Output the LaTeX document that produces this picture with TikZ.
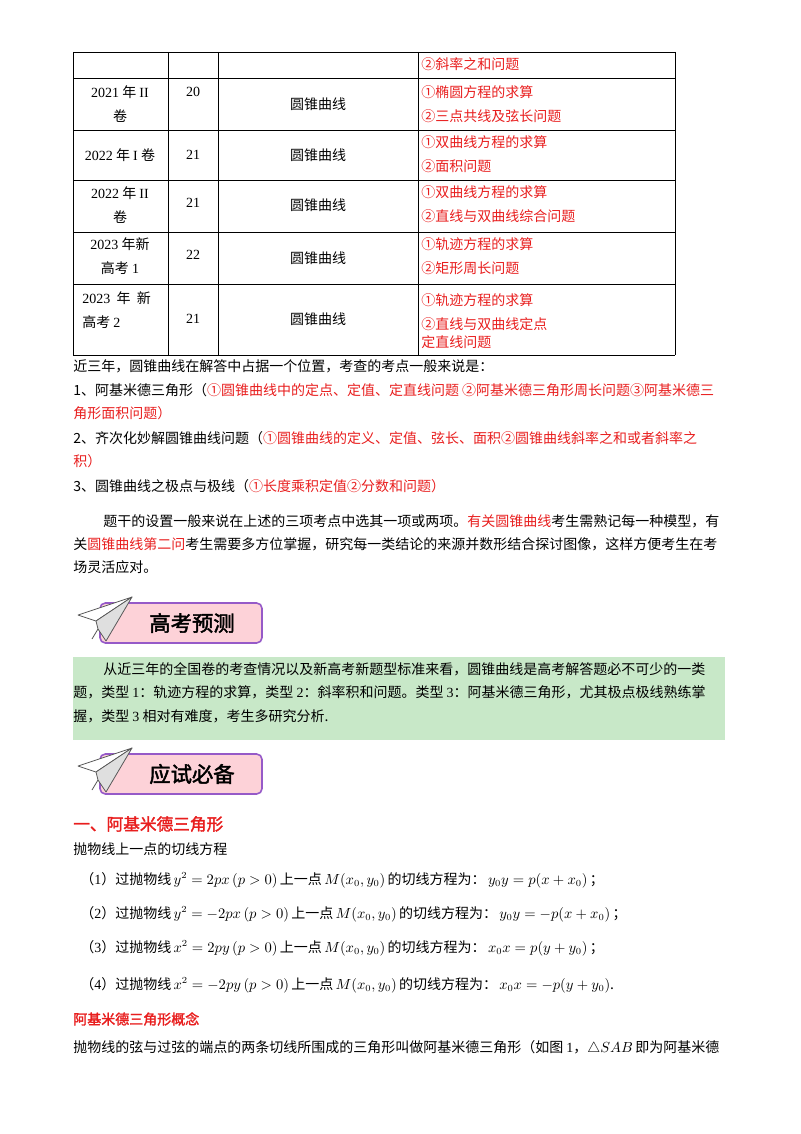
\documentclass[tikz,border=0pt]{standalone}
\usepackage{fontspec}
\setmainfont{Liberation Serif}
\newfontfamily\cjk{Noto Sans CJK SC}
\newfontfamily\cjkb{Noto Sans CJK SC}[FakeBold=2]
\newcommand{\rl}[1]{{\rmfamily #1}}
\definecolor{myred}{RGB}{232,30,30}
\definecolor{mygreen}{RGB}{200,232,200}
\definecolor{mypink}{RGB}{253,210,216}
\definecolor{mypurple}{RGB}{150,90,200}
\begin{document}
\begin{tikzpicture}[x=0.75pt,y=-0.75pt,
  tx/.style={anchor=west,inner sep=0pt,font=\cjk\fontsize{10.5}{12}\selectfont},
  tc/.style={anchor=center,inner sep=0pt,font=\cjk\fontsize{10.5}{12}\selectfont,align=center},
  rd/.style={tx,text=myred},
  grid/.style={draw=black,line width=0.6pt}]
\useasboundingbox (0,0) rectangle (800,1134);
% table
\foreach \y in {52,78,130,180,232,284,355} \draw[grid] (73,\y) -- (675,\y);
\foreach \x in {73,168,218,418,675} \draw[grid] (\x,52) -- (\x,355);
\node[rd] (r0) at (421,64) {②斜率之和问题};
\node[tc] (a1) at (120,104) {\rl{2021} 年 \rl{II}\\[6pt]卷};
\node[tc] (b1) at (193,92) {\rl{20}};
\node[tc] (c1) at (318,104) {圆锥曲线};
\node[rd] (d1) at (421,92) {①椭圆方程的求算};
\node[rd] (e1) at (421,116) {②三点共线及弦长问题};
\node[tc] (a2) at (120,155) {\rl{2022} 年 \rl{I} 卷};
\node[tc] (b2) at (193,155) {\rl{21}};
\node[tc] (c2) at (318,155) {圆锥曲线};
\node[rd] (d2) at (421,142) {①双曲线方程的求算};
\node[rd] (e2) at (421,166) {②面积问题};
\node[tc] (a3) at (120,205) {\rl{2022} 年 \rl{II}\\[6pt]卷};
\node[tc] (b3) at (193,203) {\rl{21}};
\node[tc] (c3) at (318,205) {圆锥曲线};
\node[rd] (d3) at (421,192) {①双曲线方程的求算};
\node[rd] (e3) at (421,216) {②直线与双曲线综合问题};
\node[tc] (a4) at (120,256) {\rl{2023} 年新\\[6pt]高考 \rl{1}};
\node[tc] (b4) at (193,255) {\rl{22}};
\node[tc] (c4) at (318,258) {圆锥曲线};
\node[rd] (d4) at (421,244) {①轨迹方程的求算};
\node[rd] (e4) at (421,268) {②矩形周长问题};
\node[tx] (a5) at (82,298) {\rl{2023}\ \ 年\ \ 新};
\node[tx] (a5b) at (82,322) {高考 \rl{2}};
\node[tc] (b5) at (193,319) {\rl{21}};
\node[tc] (c5) at (318,319) {圆锥曲线};
\node[rd] (d5) at (421,300) {①轨迹方程的求算};
\node[rd] (e5) at (421,324) {②直线与双曲线定点};
\node[rd] (f5) at (421,342) {定直线问题};
% text
\node[tx] (l1) at (73,366) {近三年，圆锥曲线在解答中占据一个位置，考查的考点一般来说是：};
\node[tx] (l2) at (73,390) {1、阿基米德三角形（\textcolor{myred}{①圆锥曲线中的定点、定值、定直线问题 ②阿基米德三角形周长问题③阿基米德三}};
\node[rd] (l3) at (73,413) {角形面积问题）};
\node[tx] (l4) at (73,438) {2、齐次化妙解圆锥曲线问题（\textcolor{myred}{①圆锥曲线的定义、定值、弦长、面积②圆锥曲线斜率之和或者斜率之}};
\node[rd] (l5) at (73,461) {积）};
\node[tx] (l6) at (73,486) {3、圆锥曲线之极点与极线（\textcolor{myred}{①长度乘积定值②分数和问题）}};
\node[tx] (l7) at (103,521) {题干的设置一般来说在上述的三项考点中选其一项或两项。\textcolor{myred}{有关圆锥曲线}考生需熟记每一种模型，有};
\node[tx] (l8) at (73,544) {关\textcolor{myred}{圆锥曲线第二问}考生需要多方位掌握，研究每一类结论的来源并数形结合探讨图像，这样方便考生在考};
\node[tx] (l9) at (73,567) {场灵活应对。};
% banners
\foreach \yy/\tt/\nm in {597/高考预测/bA,748/应试必备/bB}{
  \draw[mypurple,line width=1.2pt,fill=mypink,rounded corners=4pt] (100,\yy+6) rectangle (262,\yy+46);
  \node[anchor=center,font=\cjkb\fontsize{16}{18}\selectfont] (\nm) at (192,\yy+26) {\tt};
  \draw[gray!70!black,fill=white,line width=0.6pt,line join=round] (78,\yy+18) -- (132,\yy+0) -- (96,\yy+24) -- cycle;
  \draw[gray!70!black,fill=gray!25,line width=0.6pt,line join=round] (96,\yy+24) -- (132,\yy+0) -- (106,\yy+44) -- (98,\yy+32) -- cycle;
  \draw[gray!70!black,line width=0.6pt] (98,\yy+32) -- (92,\yy+42);
}
\fill[mygreen] (73,657) rectangle (725,740);
\node[tx] (g1) at (103,669) {从近三年的全国卷的考查情况以及新高考新题型标准来看，圆锥曲线是高考解答题必不可少的一类};
\node[tx] (g2) at (73,692) {题，类型 \rl{1}：轨迹方程的求算，类型 \rl{2}：斜率积和问题。类型 \rl{3}：阿基米德三角形，尤其极点极线熟练掌};
\node[tx] (g3) at (73,716) {握，类型 \rl{3} 相对有难度，考生多研究分析.};
\node[anchor=west,inner sep=0pt,text=myred,font=\cjkb\fontsize{12.5}{14}\selectfont] (h1) at (73,824) {一、阿基米德三角形};
\node[tx] (p0) at (73,849) {抛物线上一点的切线方程};
\node[tx] (p1) at (80,880) {（\rl{1}）过抛物线\,$y^2=2px\,(p>0)$\,上一点\,$M(x_0,y_0)$\,的切线方程为：\,$y_0y=p(x+x_0)$\,；};
\node[tx] (p2) at (80,914) {（\rl{2}）过抛物线\,$y^2=-2px\,(p>0)$\,上一点\,$M(x_0,y_0)$\,的切线方程为：\,$y_0y=-p(x+x_0)$\,；};
\node[tx] (p3) at (80,948) {（\rl{3}）过抛物线\,$x^2=2py\,(p>0)$\,上一点\,$M(x_0,y_0)$\,的切线方程为：\,$x_0x=p(y+y_0)$\,；};
\node[tx] (p4) at (80,985) {（\rl{4}）过抛物线\,$x^2=-2py\,(p>0)$\,上一点\,$M(x_0,y_0)$\,的切线方程为：\,$x_0x=-p(y+y_0)$.};
\node[anchor=west,inner sep=0pt,text=myred,font=\cjkb\fontsize{10.5}{12}\selectfont] (h2) at (73,1019) {阿基米德三角形概念};
\node[tx] (q1) at (73,1048) {抛物线的弦与过弦的端点的两条切线所围成的三角形叫做阿基米德三角形（如图 \rl{1}，$\triangle SAB$\,即为阿基米德};
\end{tikzpicture}
\end{document}
